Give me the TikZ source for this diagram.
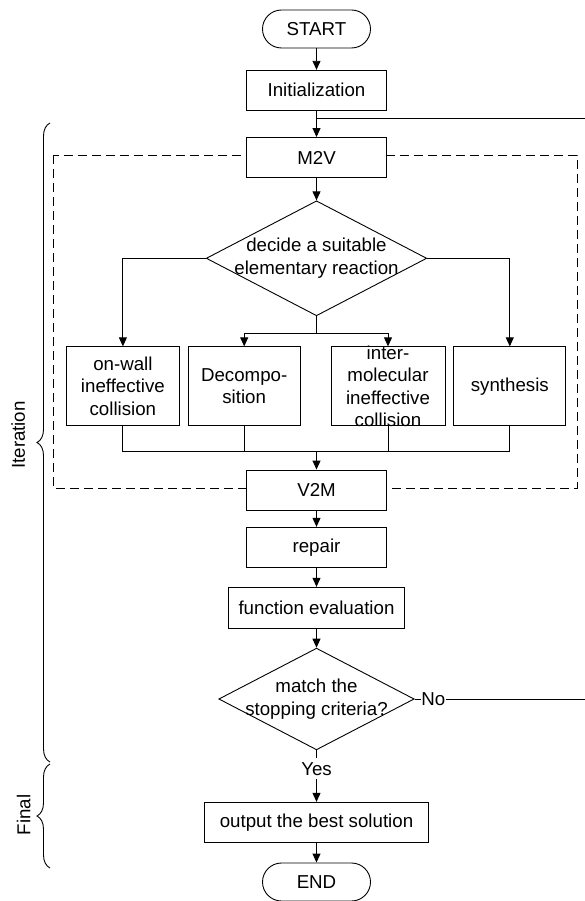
\documentclass[tikz,border=0pt]{standalone}
\usepackage{fontspec}
\setmainfont{Liberation Sans}
\usetikzlibrary{shapes.geometric,arrows.meta,decorations.pathreplacing}

\begin{document}
\begin{tikzpicture}[x=1pt, y=-1pt, line width=0.9pt,
  font=\fontsize{18.7}{22.4}\selectfont,
  >={Triangle[length=9pt,width=8pt]},
  proc/.style={draw, fill=white, minimum width=140pt, minimum height=40pt, inner sep=0pt},
  term/.style={draw, fill=white, rounded corners=19pt, minimum width=108pt, minimum height=38pt, inner sep=0pt},
  react/.style={draw, fill=white, minimum width=113pt, minimum height=79pt, inner sep=0pt, align=center},
  decide/.style={draw, diamond, fill=white, inner sep=0pt},
  grp/.style={dash pattern=on 9pt off 5pt},
  brc/.style={decorate, decoration={brace, amplitude=13pt}}]
\useasboundingbox (0,0) rectangle (584,901);

\draw[grp] (53,155) rectangle (577,488);

\node[term] (start) at (316.5,29) {START};
\node[proc] (init) at (316.5,90.3) {Initialization};
\node[proc] (m2v) at (316.5,157.5) {M2V};
\node[decide, minimum width=220.5pt, minimum height=115pt,
  label={[align=center]center:{decide a suitable\\elementary reaction}}] (dec) at (316.5,258.3) {};

\node[react] (r1) at (122.9,386.3) {on-wall\\ineffective\\collision};
\node[react, minimum width=112pt] (r2) at (244.2,386.3) {Decompo-\\sition};
\node[react, minimum width=114pt,
  label={[align=center]center:{inter-\\molecular\\ineffective\\collision}}] (r3) at (388,386.3) {};
\node[react, minimum width=112pt] (r4) at (509.8,386.3) {synthesis};

\node[proc] (v2m) at (316.5,490) {V2M};
\node[proc] (repair) at (316.5,547.3) {repair};
\node[proc, minimum width=176.5pt, minimum height=41pt] (feval) at (316.5,607.8) {function evaluation};
\node[decide, minimum width=195.4pt, minimum height=101.7pt,
  label={[align=center]center:{match the\\stopping criteria?}}] (stop) at (316.5,699) {};
\node[inner sep=0pt, anchor=west] (no) at (421,699) {No};
\node[inner sep=0pt, outer ysep=4pt, anchor=base] (yes) at (316.5,775) {Yes};
\node[proc, minimum width=224pt] (out) at (316.5,822.3) {output the best solution};
\node[term] (end) at (316.5,882) {END};

\coordinate (fb) at (316.5,118);
\coordinate (fbr) at (585,118);
\coordinate (split) at (316.5,333.3);
\coordinate (mrg) at (316.5,451.7);

\draw[->] (start) -- (init);
\draw[->] (init) -- (m2v);
\draw[->] (m2v) -- (dec);

\draw[->] (dec.west) -| (r1);
\draw[->] (dec.east) -| (r4);
\draw (dec.south) -- (split);
\draw[->] (split) -| (r2);
\draw[->] (split) -| (r3);

\draw (r1.south) |- (mrg);
\draw (r2.south) |- (mrg);
\draw (r3.south) |- (mrg);
\draw (r4.south) |- (mrg);
\draw[->] (mrg) -- (v2m);

\draw[->] (v2m) -- (repair);
\draw[->] (repair) -- (feval);
\draw[->] (feval) -- (stop);
\draw (stop.south) -- (yes.north);
\draw[->] (yes.south) -- (out);
\draw[->] (out) -- (end);

\draw (stop.east) -- (no.west);
\draw (no.east) -| (fbr) -- (fb);

\draw[brc] (50,762) -- (50,123);
\node[rotate=90] (iterlab) at (18.3,435) {Iteration};
\draw[brc] (50,868) -- (50,764);
\node[rotate=90] (finlab) at (23.7,815) {Final};

\end{tikzpicture}
\end{document}
